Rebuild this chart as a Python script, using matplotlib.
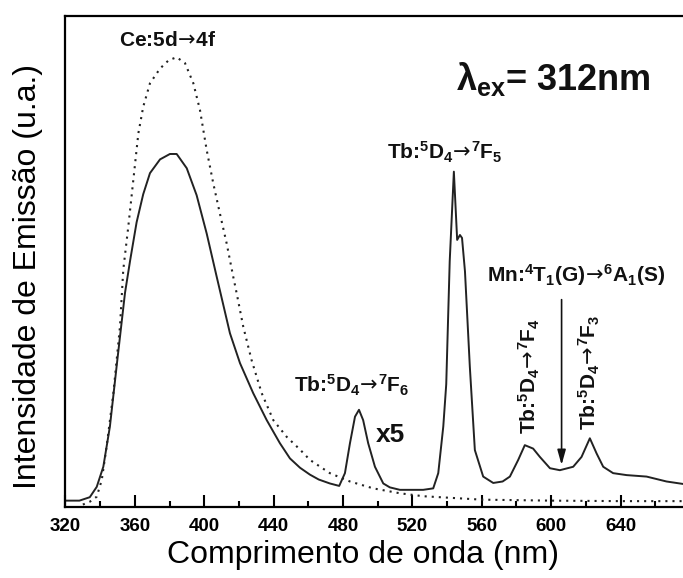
import numpy as np
import matplotlib
matplotlib.use('Agg')
from matplotlib import pyplot as plt

plt.rcParams['font.family'] = ['Liberation Sans', 'DejaVu Sans']
plt.rcParams['mathtext.fontset'] = 'custom'
plt.rcParams['mathtext.rm'] = 'Liberation Sans:bold'
plt.rcParams['mathtext.it'] = 'Liberation Sans:bold'
plt.rcParams['mathtext.bf'] = 'Liberation Sans:bold'
plt.rcParams['mathtext.sf'] = 'DejaVu Sans'

# emission spectrum, lambda_ex = 312 nm (solid)
wl_em = [320, 328, 334, 338, 341.8, 345.6, 349.9, 354.3, 357.3, 361, 364.8, 368.7,
         374.5, 380.2, 384.1, 389.9, 395.6, 401.4, 407.1, 414.8, 420.6,
         428.2, 436, 443.6, 449.4, 455.2, 460.9, 466, 472.4, 477.8, 481.1, 484,
         486.9, 489.2, 491.6, 494.5, 498.4, 503.2, 507, 512.8, 520, 526.2, 532,
         534.9, 537.8, 539.5, 541.5, 543.9, 545.8, 547.4, 548.6, 550.3, 553.1, 556,
         560.8, 566.6, 572, 576.2, 581, 584.8, 589.6, 593.5, 599.3, 605, 612.7,
         617.5, 622.3, 626.2, 630, 635.7, 643.5, 655, 666.5, 676]
i_em = [0.013, 0.013, 0.020, 0.041, 0.082, 0.164, 0.300, 0.436, 0.503, 0.580, 0.637, 0.680,
        0.708, 0.719, 0.719, 0.690, 0.635, 0.557, 0.470, 0.354, 0.293,
        0.232, 0.177, 0.130, 0.099, 0.080, 0.066, 0.056, 0.048, 0.043, 0.069, 0.130,
        0.184, 0.198, 0.177, 0.130, 0.082, 0.048, 0.040, 0.035, 0.035, 0.035, 0.038,
        0.069, 0.164, 0.250, 0.500, 0.683, 0.544, 0.554, 0.548, 0.480, 0.286, 0.116,
        0.062, 0.049, 0.052, 0.062, 0.096, 0.126, 0.119, 0.102, 0.079, 0.075, 0.082,
        0.102, 0.140, 0.109, 0.082, 0.069, 0.065, 0.062, 0.052, 0.047]

# Ce 5d->4f reference band (dotted)
wl_ce = [330, 334.1, 338, 340.9, 343.7, 347.6, 351.4, 353.3, 356.2, 359.1, 362, 364.8,
         368.7, 374.5, 379.5, 384.1, 388.9, 393.7, 397.5, 401.4, 405.2, 409, 412.9,
         416.7, 418.7, 422.5, 427.3, 433.1, 439.8, 447.5, 455.2, 460.9, 472.4, 484,
         497.4, 512.8, 526.2, 545.5, 560, 600, 640, 676]
i_ce = [0.005, 0.011, 0.021, 0.055, 0.123, 0.232, 0.367, 0.483, 0.571, 0.666, 0.761, 0.815,
        0.863, 0.893, 0.910, 0.916, 0.904, 0.863, 0.809, 0.727, 0.659, 0.598, 0.537,
        0.469, 0.435, 0.367, 0.299, 0.232, 0.177, 0.143, 0.117, 0.096, 0.069, 0.052,
        0.038, 0.028, 0.022, 0.018, 0.015, 0.013, 0.012, 0.012]

fig = plt.figure(figsize=(6.83, 5.78), dpi=100)
ax = fig.add_axes([0.0959, 0.1228, 0.9041, 0.8495])

ax.plot(wl_ce, i_ce, color='#222222', lw=1.5, linestyle=(0, (1, 2.4)))
ax.plot(wl_em, i_em, color='#222222', lw=1.4)

ax.set_xlim(320, 676)
ax.set_ylim(0, 1)
ax.set_xticks(np.arange(320, 676, 40))
ax.set_xticks(np.arange(340, 676, 40), minor=True)
ax.set_yticks([])
ax.tick_params(axis='x', which='major', direction='in', length=8.5, width=1.5,
               labelsize=13.5, pad=8)
ax.tick_params(axis='x', which='minor', direction='in', length=4.5, width=1.5)
for lab in ax.get_xticklabels():
    lab.set_fontweight('bold')
for s in ['left', 'bottom', 'top']:
    ax.spines[s].set_linewidth(1.6)
ax.spines['right'].set_visible(False)

arr = r'$\!\mathsf{\rightarrow}\!$'
bold = dict(fontweight='bold', ha='center', va='center', color='#111111')
ax.text(379, 0.951, 'Ce:5d' + arr + '4f', fontsize=15, **bold)
ax.text(601, 0.872, r'$\lambda_{ex}$= 312nm', fontsize=26, **bold)
ax.text(538.8, 0.723, r'Tb:$^5$D$_4$' + arr + r'$^7$F$_5$', fontsize=15, **bold)
ax.text(485, 0.248, r'Tb:$^5$D$_4$' + arr + r'$^7$F$_6$', fontsize=15, **bold)
ax.text(507.6, 0.147, 'x5', fontsize=19, **bold)
ax.text(614.5, 0.472, r'Mn:$^4$T$_1$(G)' + arr + r'$^6$A$_1$(S)', fontsize=15, **bold)
ax.text(587.7, 0.267, r'Tb:$^5$D$_4$' + arr + r'$^7$F$_4$', fontsize=15, rotation=90, **bold)
ax.text(622.3, 0.275, r'Tb:$^5$D$_4$' + arr + r'$^7$F$_3$', fontsize=15, rotation=90, **bold)
ax.annotate('', xy=(606, 0.080), xytext=(606, 0.428),
            arrowprops=dict(arrowstyle='-|>,head_length=0.9,head_width=0.25',
                            color='#111111', lw=1.2))

fig.text(28 / 683, 1 - 276.5 / 578, 'Intensidade de Emissão (u.a.)',
         fontsize=23, rotation=90, ha='center', va='center')
fig.text(363.5 / 683, 1 - 555 / 578, 'Comprimento de onda (nm)',
         fontsize=23, ha='center', va='center')

fig.savefig('out.png', dpi=100)
